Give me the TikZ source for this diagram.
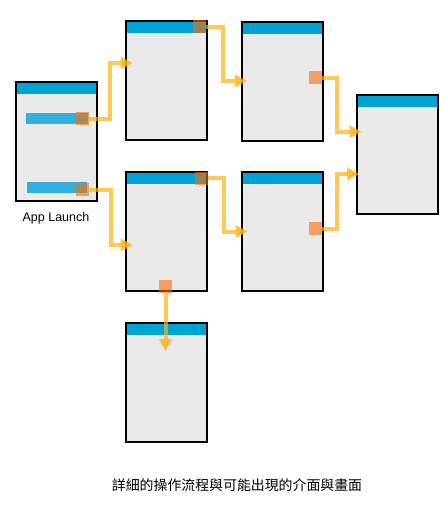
\documentclass[tikz,border=0pt]{standalone}
\usepackage{fontspec}
\setmainfont{Liberation Sans}
\newfontfamily\cjk{Noto Sans CJK TC}
\usetikzlibrary{arrows.meta,calc}
\definecolor{scrfill}{HTML}{EAEAEA}
\definecolor{hdr}{HTML}{00A3D6}
\definecolor{hot}{HTML}{FC6E04}
\definecolor{flow}{HTML}{FFB013}
\definecolor{barblue}{HTML}{31B0DE}
\begin{document}
\begin{tikzpicture}[x=1pt,y=-1pt,
 screen/.style={draw=black,line width=2pt,fill=scrfill,minimum width=81pt,minimum height=119pt,inner sep=0pt,outer sep=0pt,
   path picture={\fill[hdr] (path picture bounding box.north west) rectangle ([yshift=-12pt]path picture bounding box.north east);}},
 hotspot/.style={fill=hot,fill opacity=0.6,minimum size=13pt,inner sep=0pt,outer sep=0pt},
 bar/.style={fill=barblue,inner sep=0pt,outer sep=0pt,minimum height=11pt},
 conn/.style={draw=flow,opacity=0.7,line width=4pt,-{Triangle[length=12.5pt 0 0,width=12.5pt 0 0]}},
 lbl/.style={inner sep=0pt,font=\fontsize{12.5pt}{14pt}\selectfont},
]
\useasboundingbox (0,0) rectangle (446,506);
% screens
\node[screen] (A) at (56.5,141.5) {};
\node[screen] (B) at (166,80.5) {};
\node[screen] (C) at (282,81) {};
\node[screen] (D) at (397,154.5) {};
\node[screen] (E) at (166,231.5) {};
\node[screen] (F) at (282,231.5) {};
\node[screen] (G) at (166,382.5) {};
% bars in launch screen
\node[bar,minimum width=62pt] (barA1) at (57,118.5) {};
\node[bar,minimum width=60pt] (barA2) at (57,187.5) {};
% hotspots
\node[hotspot] (sA1) at (82.5,118.5) {};
\node[hotspot] (sA2) at (82.5,189.5) {};
\node[hotspot] (sB) at (199.5,26.5) {};
\node[hotspot] (sC) at (315.5,77.5) {};
\node[hotspot] (sE) at (201.5,178) {};
\node[hotspot] (sF) at (315.5,228.5) {};
\node[hotspot] (sE2) at (165.5,286.5) {};
% connectors
\draw[conn] (sA1.east) -- ++(21,0) |- ($(B.west)+(7.5,-17.5)$);
\draw[conn] (sB.east) -- ++(17,0) |- ($(C.west)+(5.5,0)$);
\draw[conn] (sC.east) -- ++(15,0) |- ($(D.west)+(5.5,-22.8)$);
\draw[conn] (sF.east) -- ++(15,0) |- ($(D.west)+(3,19.5)$);
\draw[conn] (sE.east) -- ++(16,0) |- ($(F.west)+(6.5,0)$);
\draw[conn] (sA2.east) -- ++(21.5,0) |- ($(E.west)+(7.5,13.5)$);
\draw[conn] (sE2.south) -- ($(sE2.south |- G.north)+(0,28.5)$);
% labels
\node[lbl] (launch) at (56,218) {App Launch};
\node[inner sep=0pt,font=\cjk\fontsize{13.9pt}{16pt}\selectfont] (cap) at (237,485) {詳細的操作流程與可能出現的介面與畫面};
\end{tikzpicture}
\end{document}
